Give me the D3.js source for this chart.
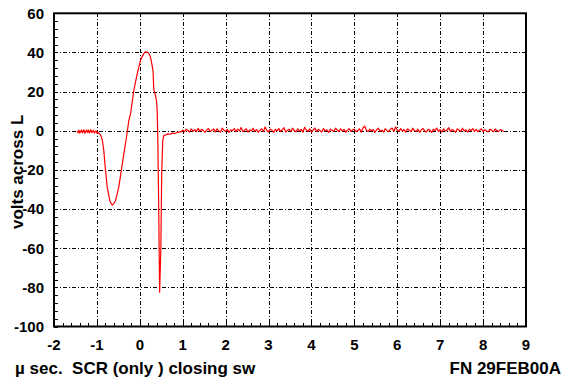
<!DOCTYPE html>
<html>
<head>
<meta charset="utf-8">
<script src="https://cdn.jsdelivr.net/npm/d3@7"></script>
<style>
  body { margin: 0; background: #fff; }
  svg { display: block; font-family: "Liberation Sans", Arial, sans-serif; font-weight: bold; }
</style>
</head>
<body>
<svg id="chart" width="564" height="380"></svg>
<script>
// axis settings
const xTicks = [-2, -1, 0, 1, 2, 3, 4, 5, 6, 7, 8, 9];
const yTicks = [-100, -80, -60, -40, -20, 0, 20, 40, 60];
const xTitle = "\u00b5 sec.  SCR (only ) closing sw";
const yTitle = "volts across L";
const fileTag = "FN 29FEB00A";

// pre-trigger noise, sampled every 0.02 us from -1.46
const preStart = -1.46, preStep = 0.02;
const preValues = [-0.2, -1.0, 0.3, -1.2, -0.3, 0.4, -1.1, -0.1, 0.5, -1.3,
  -0.4, 0.3, -0.9, 0.4, -1.1, -0.2, 0.6, -1.0, -0.3, 0.2,
  -1.2, -0.5, -0.1, -1.1, -0.6, -1.2];

// the transient (t in us, volts)
const pulse = [
  [-0.94, -1.4], [-0.92, -2], [-0.90, -3], [-0.875, -4.6], [-0.84, -10],
  [-0.80, -20], [-0.76, -28.8], [-0.70, -35.6], [-0.66, -37.5], [-0.64, -38],
  [-0.60, -37], [-0.565, -35.6], [-0.49, -28.8], [-0.43, -20], [-0.37, -11.6],
  [-0.31, -3.2], [-0.255, 5.3], [-0.216, 8.7], [-0.14, 20.6], [-0.06, 29.2],
  [0.016, 36], [0.06, 38], [0.093, 39.4], [0.13, 40.3], [0.156, 40.2],
  [0.19, 40], [0.215, 39.2], [0.25, 37.5], [0.29, 33], [0.31, 30],
  [0.326, 21], [0.365, 18], [0.39, 15], [0.405, 10], [0.42, -5],
  [0.44, -39], [0.462, -82.5], [0.49, -60], [0.51, -21.8], [0.535, -5],
  [0.56, -2.4], [0.6, -2.2], [0.65, -1.6], [0.7, -1.8], [0.76, -1.2],
  [0.82, -1.4], [0.88, -0.8], [0.94, -0.6], [0.98, -0.2]
];

// baseline noise after the pulse, sampled every 0.04 us from 1.0
const postStart = 1.0, postStep = 0.04;
const postValues = [
  0.3, -0.5, 0.8, 0.1, -0.7, 1.0, -0.2, 0.5, -0.4, 1.2,
  -0.3, 0.7, 0.2, -0.8, 0.5, 1.1, -0.4, 0.2, 0.9, -0.6,
  1.0, -0.1, -0.7, 1.4, 0.3, -0.3, 0.7, -0.9, 0.5, 0.1,
  1.1, -0.4, 0.8, -0.1, 1.7, -0.5, 0.3, 1.0, -0.7, 0.5,
  -0.1, 1.3, -0.3, 0.6, -0.8, 0.3, 1.0, -0.4, 1.9, 0.1,
  -0.6, 0.8, 0.3, -0.9, 0.7, -0.1, 1.1, -0.3, 0.5, 1.6,
  -0.7, 0.3, 0.8, -0.4, 1.3, 0.1, -0.6, 1.0, -0.1, 0.7,
  -0.8, 1.8, 0.4, -0.3, 1.0, -0.6, 0.3, 1.4, -0.4, 0.7,
  0.1, -0.7, 1.1, -0.1, 0.5, -0.9, 0.8, 0.3, -0.3, 1.3,
  0.4, -0.4, 1.0, -0.1, 0.7, -0.8, 0.3, 1.1, -0.3, 0.5,
  0.8, -0.5, 0.1, 1.0, -0.7, 1.4, 2.4, 0.3, -0.4, 0.8,
  -0.1, 0.6, -0.9, 0.5, 1.3, -0.3, 0.3, -0.7, 1.0, 0.1,
  -0.5, 0.8, 1.4, -0.4, 2.0, 0.4, -0.3, 1.1, -0.1, 0.6,
  -0.8, 1.0, 0.3, -0.5, 1.3, 0.1, -0.4, 0.8, -0.7, 0.5,
  1.1, -0.1, -0.6, 0.7, 0.3, -0.9, 0.8, 0.1, 1.4, -0.4,
  0.5, -0.7, 1.0, -0.1, 0.3, 1.6, -0.5, 0.7, 0.1, -0.8,
  1.0, 0.3, -0.4, 1.3, -0.1, 0.5, -0.7, 0.8, 0.1, 1.1,
  -0.3, 0.7, -0.5, 0.3, 1.0, -0.4, 0.5, -0.1, -0.6, 0.8,
  0.2, -0.5, 0.9, 0.0, -0.3, 0.6, 0.2, -0.4
];

const svg = d3.select("#chart");
const plotL = 54, plotR = 526, plotT = 13.3, plotB = 326.5;

const x = d3.scaleLinear().domain([-2, 9]).range([plotL, plotR]);
const y = d3.scaleLinear().domain([-100, 60]).range([plotB, plotT]);

// grid lines, dash-dot
const grid = svg.append("g").attr("stroke", "#000").attr("stroke-width", 1)
  .attr("stroke-dasharray", "4,2,1,2").attr("shape-rendering", "crispEdges");
grid.selectAll("line.gx").data(xTicks.slice(1, -1)).enter().append("line")
  .attr("x1", d => Math.round(x(d)) + 0.5).attr("x2", d => Math.round(x(d)) + 0.5)
  .attr("y1", plotT).attr("y2", plotB);
grid.selectAll("line.gy").data(yTicks.slice(1, -1)).enter().append("line")
  .attr("y1", d => Math.round(y(d)) + 0.5).attr("y2", d => Math.round(y(d)) + 0.5)
  .attr("x1", plotL).attr("x2", plotR);

// minor ticks, pointing inward
const ticks = svg.append("g").attr("stroke", "#000").attr("stroke-width", 1)
  .attr("shape-rendering", "crispEdges");
ticks.selectAll("line.tx").data(d3.range(-100, 61, 4)).enter().append("line")
  .attr("x1", plotL).attr("x2", plotL + 4)
  .attr("y1", d => Math.round(y(d)) + 0.5).attr("y2", d => Math.round(y(d)) + 0.5);
ticks.selectAll("line.ty").data(d3.range(-20, 91, 2).map(d => d / 10)).enter().append("line")
  .attr("y1", plotB).attr("y2", plotB - 4)
  .attr("x1", d => Math.round(x(d)) + 0.5).attr("x2", d => Math.round(x(d)) + 0.5);

// frame
svg.append("rect").attr("x", plotL).attr("y", plotT)
  .attr("width", plotR - plotL).attr("height", plotB - plotT)
  .attr("fill", "none").attr("stroke", "#000").attr("stroke-width", 2);

// tick labels
svg.append("g").selectAll("text").data(yTicks).enter().append("text")
  .attr("x", plotL - 10).attr("y", d => y(d)).attr("dy", "0.36em")
  .attr("text-anchor", "end").attr("font-size", 15).text(d => d);
svg.append("g").selectAll("text").data(xTicks).enter().append("text")
  .attr("x", d => x(d)).attr("y", plotB + 23)
  .attr("text-anchor", "middle").attr("font-size", 15).text(d => d);

// titles
svg.append("text").attr("transform", "translate(23," + ((plotT + plotB) / 2 + 2) + ") rotate(-90)")
  .attr("text-anchor", "middle").attr("font-size", 17).text(yTitle);
svg.append("text").attr("x", 15).attr("y", 374).attr("font-size", 17)
  .style("white-space", "pre").text(xTitle);
svg.append("text").attr("x", 561).attr("y", 374).attr("text-anchor", "end")
  .attr("font-size", 17).text(fileTag);

// trace
const trace = []
  .concat(preValues.map((v, i) => [preStart + i * preStep, v]))
  .concat(pulse)
  .concat(postValues.map((v, i) => [postStart + i * postStep, v]));

svg.append("path").datum(trace)
  .attr("fill", "none").attr("stroke", "#ff0000").attr("stroke-width", 1.2)
  .attr("stroke-linejoin", "round")
  .attr("d", d3.line().x(d => x(d[0])).y(d => y(d[1])));
</script>
</body>
</html>
